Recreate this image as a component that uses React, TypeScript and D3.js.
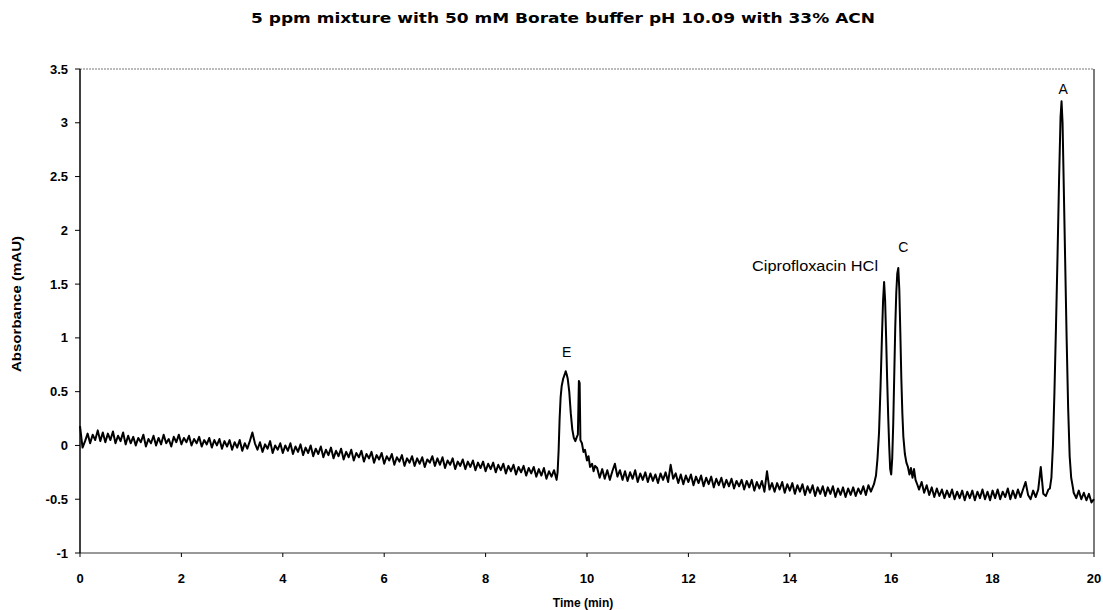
import React from "react";
import * as d3 from "d3";

const W = 1103;
const H = 610;

const titleText = "5 ppm mixture with 50 mM Borate buffer pH 10.09 with 33% ACN";
const xTicks = [0, 2, 4, 6, 8, 10, 12, 14, 16, 18, 20];
const yTicks = [-1, -0.5, 0, 0.5, 1, 1.5, 2, 2.5, 3, 3.5];

// Baseline 0 - 9.40 min, every 0.05 min
const base1Start = 0;
const base1Step = 0.05;
const base1 = [
  0.18, -0.02, 0.04, 0.11, 0.02, 0.10, 0.05, 0.14, 0.04, 0.12,
  0.03, 0.11, 0.05, 0.13, 0.02, 0.09, 0.04, 0.12, 0.01, 0.09,
  0.02, 0.08, 0.00, 0.07, 0.03, 0.10, -0.01, 0.06, 0.02, 0.09,
  0.00, 0.07, 0.01, 0.10, 0.02, 0.06, -0.01, 0.08, 0.03, 0.10,
  0.01, 0.07, 0.03, 0.09, 0.00, 0.06, 0.02, 0.08, -0.01, 0.05,
  0.01, 0.07, -0.02, 0.05, 0.00, 0.06, -0.03, 0.04, -0.01, 0.05,
  -0.04, 0.03, -0.02, 0.05, -0.05, 0.02, -0.03, 0.04, 0.12, 0.02,
  -0.04, 0.03, -0.06, 0.01, -0.03, 0.04, -0.07, 0.00, -0.04, 0.02,
  -0.07, 0.00, -0.05, 0.02, -0.08, -0.01, -0.06, 0.01, -0.09, -0.02,
  -0.07, 0.00, -0.10, -0.03, -0.08, -0.01, -0.11, -0.04, -0.09, -0.02,
  -0.12, -0.05, -0.10, -0.03, -0.13, -0.06, -0.11, -0.04, -0.14, -0.07,
  -0.11, -0.05, -0.15, -0.08, -0.12, -0.06, -0.16, -0.09, -0.13, -0.07,
  -0.17, -0.10, -0.14, -0.08, -0.18, -0.11, -0.15, -0.09, -0.19, -0.12,
  -0.16, -0.10, -0.19, -0.12, -0.17, -0.11, -0.20, -0.13, -0.16, -0.10,
  -0.19, -0.12, -0.18, -0.11, -0.21, -0.14, -0.18, -0.12, -0.22, -0.15,
  -0.19, -0.13, -0.22, -0.15, -0.20, -0.14, -0.23, -0.16, -0.21, -0.15,
  -0.24, -0.17, -0.22, -0.16, -0.25, -0.18, -0.23, -0.17, -0.26, -0.19,
  -0.24, -0.18, -0.27, -0.20, -0.25, -0.19, -0.28, -0.21, -0.26, -0.20,
  -0.29, -0.22, -0.28, -0.21, -0.31, -0.24, -0.29, -0.23, -0.32,
];

// Peak E region (explicit times)
const peakETimes = [9.42, 9.44, 9.46, 9.48, 9.50, 9.53, 9.56, 9.58, 9.60, 9.62, 9.65, 9.68, 9.71, 9.74, 9.77, 9.80, 9.82, 9.84, 9.855, 9.87, 9.90, 9.93, 9.96, 10.00, 10.03, 10.06, 10.10, 10.13, 10.16];
const peakEValues = [-0.25, -0.05, 0.25, 0.45, 0.55, 0.62, 0.66, 0.69, 0.66, 0.62, 0.5, 0.3, 0.15, 0.07, 0.04, 0.08, 0.10, 0.60, 0.58, 0.05, 0.02, -0.06, -0.04, -0.14, -0.10, -0.20, -0.17, -0.24, -0.19];

// Baseline 10.20 - 15.60 min
const base2Start = 10.2;
const base2Step = 0.05;
const base2 = [
  -0.21, -0.30, -0.22, -0.31, -0.23, -0.32, -0.24, -0.17, -0.29, -0.23,
  -0.32, -0.24, -0.33, -0.25, -0.31, -0.23, -0.34, -0.26, -0.32, -0.25,
  -0.34, -0.26, -0.33, -0.27, -0.35, -0.26, -0.32, -0.25, -0.34, -0.18,
  -0.31, -0.26, -0.35, -0.27, -0.36, -0.28, -0.34, -0.27, -0.37, -0.29,
  -0.35, -0.28, -0.38, -0.30, -0.36, -0.29, -0.39, -0.31, -0.37, -0.30,
  -0.39, -0.32, -0.38, -0.31, -0.40, -0.33, -0.38, -0.32, -0.41, -0.33,
  -0.39, -0.32, -0.42, -0.34, -0.40, -0.33, -0.43, -0.24, -0.41, -0.35,
  -0.43, -0.35, -0.41, -0.34, -0.44, -0.36, -0.42, -0.35, -0.45, -0.37,
  -0.43, -0.36, -0.46, -0.38, -0.44, -0.37, -0.47, -0.39, -0.45, -0.38,
  -0.47, -0.39, -0.45, -0.38, -0.48, -0.40, -0.46, -0.39, -0.48, -0.40,
  -0.46, -0.39, -0.47, -0.40, -0.45, -0.38, -0.46, -0.37, -0.43,
];

// Ciprofloxacin HCl and C peaks
const peakCTimes = [15.66, 15.70, 15.73, 15.76, 15.79, 15.82, 15.84, 15.86, 15.88, 15.90, 15.92, 15.94, 15.96, 15.98, 16.00, 16.02, 16.04, 16.06, 16.08, 16.10, 16.12, 16.14, 16.16, 16.18, 16.20, 16.22, 16.24, 16.27, 16.30, 16.33, 16.36, 16.39, 16.42, 16.45, 16.48, 16.52];
const peakCValues = [-0.36, -0.28, -0.12, 0.12, 0.55, 1.05, 1.35, 1.52, 1.35, 1.0, 0.62, 0.28, 0.0, -0.22, -0.27, -0.12, 0.2, 0.65, 1.1, 1.42, 1.6, 1.65, 1.45, 1.05, 0.62, 0.3, 0.08, -0.08, -0.16, -0.2, -0.27, -0.21, -0.3, -0.22, -0.32, -0.37];

// Baseline 16.55 - 19.10 min
const base3Start = 16.55;
const base3Step = 0.05;
const base3 = [
  -0.41, -0.34, -0.44, -0.37, -0.46, -0.39, -0.48, -0.40, -0.47, -0.41,
  -0.49, -0.42, -0.48, -0.41, -0.50, -0.43, -0.49, -0.42, -0.51, -0.43,
  -0.49, -0.42, -0.51, -0.43, -0.49, -0.41, -0.50, -0.43, -0.51, -0.42,
  -0.49, -0.41, -0.50, -0.43, -0.48, -0.40, -0.50, -0.42, -0.49, -0.41,
  -0.48, -0.41, -0.34, -0.46, -0.50, -0.42, -0.48, -0.41, -0.20, -0.45,
  -0.47, -0.41,
];

// Peak A
const peakATimes = [19.13, 19.16, 19.19, 19.22, 19.25, 19.28, 19.31, 19.34, 19.36, 19.38, 19.40, 19.43, 19.46, 19.49, 19.52, 19.55, 19.58];
const peakAValues = [-0.40, -0.30, 0.0, 0.5, 1.1, 1.75, 2.45, 3.05, 3.2, 3.0, 2.5, 1.75, 1.0, 0.35, -0.1, -0.3, -0.38];

// Baseline 19.60 - 20.00 min
const base4Start = 19.6;
const base4Step = 0.05;
const base4 = [-0.44, -0.49, -0.42, -0.50, -0.44, -0.51, -0.45, -0.53, -0.50];

// Peak labels
const labelNames = ["E", "Ciprofloxacin HCl", "C", "A"];
const labelTimes = [9.6, 15.74, 16.24, 19.39];
const labelValues = [0.82, 1.62, 1.8, 3.27];
const labelAnchors = ["middle", "end", "middle", "middle"];

type Pt = { t: number; v: number };

function uniform(start: number, step: number, vals: number[]): Pt[] {
  return vals.map((v, i) => ({ t: +(start + i * step).toFixed(4), v }));
}
function explicit(ts: number[], vs: number[]): Pt[] {
  return ts.map((t, i) => ({ t, v: vs[i] }));
}

const series: Pt[] = [
  ...uniform(base1Start, base1Step, base1),
  ...explicit(peakETimes, peakEValues),
  ...uniform(base2Start, base2Step, base2),
  ...explicit(peakCTimes, peakCValues),
  ...uniform(base3Start, base3Step, base3),
  ...explicit(peakATimes, peakAValues),
  ...uniform(base4Start, base4Step, base4),
].sort((a, b) => a.t - b.t);

export default function App() {
  const left = 80;
  const right = 1094;
  const top = 69;
  const bottom = 553;
  const x = d3.scaleLinear().domain([0, 20]).range([left, right]);
  const y = d3.scaleLinear().domain([-1, 3.5]).range([bottom, top]);
  const line = d3
    .line<Pt>()
    .x((d) => x(d.t))
    .y((d) => y(d.v));
  const font = "'Liberation Sans', Arial, sans-serif";

  return (
    <svg
      width={W}
      height={H}
      style={{ position: "absolute", left: 0, top: 0, background: "#fff" }}
      fontFamily={font}
    >
      <rect x={0} y={0} width={W} height={H} fill="#fff" />
      <text
        x={563}
        y={23}
        textAnchor="middle"
        fontSize={13.5}
        fontWeight="bold"
        fontFamily="'DejaVu Sans', sans-serif"
        textLength={624}
        lengthAdjust="spacingAndGlyphs"
      >
        {titleText}
      </text>

      {/* frame */}
      <line x1={left} x2={right} y1={top} y2={top} stroke="#777" strokeDasharray="2,1" strokeWidth={1} />
      <line x1={right} x2={right} y1={top} y2={bottom} stroke="#222" strokeWidth={1.2} />
      <line x1={left} x2={right} y1={bottom} y2={bottom} stroke="#333" strokeWidth={1} />
      <line x1={left} x2={left} y1={top} y2={bottom} stroke="#000" strokeWidth={1.5} />

      {/* y ticks */}
      {yTicks.map((t) => (
        <g key={"y" + t}>
          <line x1={left - 5} x2={left} y1={y(t)} y2={y(t)} stroke="#000" strokeWidth={1} />
          <text
            x={left - 12}
            y={y(t)}
            dy="0.35em"
            textAnchor="end"
            fontSize={13}
            fontWeight="bold"
          >
            {t}
          </text>
        </g>
      ))}

      {/* x ticks */}
      {xTicks.map((t) => (
        <g key={"x" + t}>
          <line x1={x(t)} x2={x(t)} y1={bottom} y2={bottom + 4} stroke="#000" strokeWidth={1} />
          <text x={x(t)} y={583} textAnchor="middle" fontSize={13} fontWeight="bold">
            {t}
          </text>
        </g>
      ))}

      <text x={583} y={607} textAnchor="middle" fontSize={12} fontWeight="bold">
        Time (min)
      </text>
      <text
        transform={`translate(21,304) rotate(-90)`}
        textAnchor="middle"
        fontSize={12}
        fontWeight="bold"
        textLength={136}
        lengthAdjust="spacingAndGlyphs"
      >
        Absorbance (mAU)
      </text>

      <path d={line(series) || ""} fill="none" stroke="#000" strokeWidth={2} strokeLinejoin="round" />

      {labelNames.map((n, i) => (
        <text
          key={n}
          x={x(labelTimes[i])}
          y={y(labelValues[i])}
          textAnchor={labelAnchors[i] as any}
          fontSize={14}
          {...(n.length > 3 ? { textLength: 126, lengthAdjust: "spacingAndGlyphs" } : {})}
        >
          {n}
        </text>
      ))}
    </svg>
  );
}
